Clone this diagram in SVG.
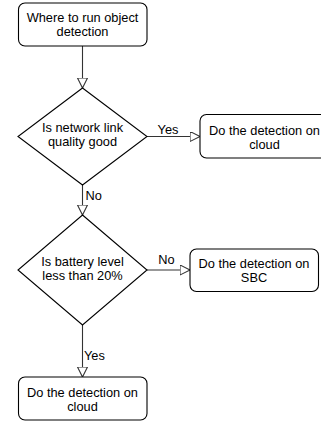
<svg xmlns="http://www.w3.org/2000/svg" width="321" height="421" viewBox="0 0 321 421">
  <style>
    .shape { fill: #ffffff; stroke: #000000; stroke-width: 1.1; }
    .edge { fill: none; stroke: #333333; stroke-width: 1.1; }
    .label { font-family: "Liberation Sans", Arial, Helvetica, sans-serif; font-size: 12.8px; fill: #000000; }
    .mid { text-anchor: middle; }
  </style>
  <defs>
    <marker id="openArrow" markerWidth="12" markerHeight="12" refX="10" refY="5" orient="auto" markerUnits="userSpaceOnUse" viewBox="0 0 12 12">
      <path d="M0,0 L10,5 L0,10 Z" fill="#ffffff" stroke="#333333" stroke-width="1.1"/>
    </marker>
  </defs>

  <!-- connectors -->
  <g id="connectors">
    <line class="edge" x1="82.5" y1="46" x2="82.5" y2="88" marker-end="url(#openArrow)"/>
    <line class="edge" x1="147" y1="136.5" x2="200" y2="136.5" marker-end="url(#openArrow)"/>
    <line class="edge" x1="82.5" y1="185" x2="82.5" y2="215" marker-end="url(#openArrow)"/>
    <line class="edge" x1="147" y1="270" x2="190" y2="270" marker-end="url(#openArrow)"/>
    <line class="edge" x1="82.5" y1="325" x2="82.5" y2="377" marker-end="url(#openArrow)"/>
    <text class="label mid" x="168" y="134">Yes</text>
    <text class="label" x="85.5" y="199.5">No</text>
    <text class="label mid" x="166.5" y="263.5">No</text>
    <text class="label" x="84" y="359.5">Yes</text>
  </g>

  <!-- start -->
  <g id="start">
    <rect class="shape" x="18.5" y="3" width="128.5" height="43" rx="6.5"/>
    <text class="label mid" x="82.5" y="22">Where to run object</text>
    <text class="label mid" x="82.5" y="36">detection</text>
  </g>

  <!-- decision: network link -->
  <g id="network-check">
    <polygon class="shape" points="82.5,88 147,136.5 82.5,185 18,136.5"/>
    <text class="label mid" x="82.5" y="132">Is network link</text>
    <text class="label mid" x="82.5" y="146">quality good</text>
  </g>

  <!-- outcome: cloud (network good) -->
  <g id="cloud-right">
    <rect class="shape" x="200" y="114.5" width="130" height="43.5" rx="6.5"/>
    <text class="label mid" x="264.5" y="135">Do the detection on</text>
    <text class="label mid" x="264.5" y="149">cloud</text>
  </g>

  <!-- decision: battery level -->
  <g id="battery-check">
    <polygon class="shape" points="82.5,215 147,270 82.5,325 18,270"/>
    <text class="label mid" x="82.5" y="265.5">Is battery level</text>
    <text class="label mid" x="82.5" y="279.5">less than 20%</text>
  </g>

  <!-- outcome: SBC -->
  <g id="sbc">
    <rect class="shape" x="190" y="249" width="128.5" height="42.5" rx="6.5"/>
    <text class="label mid" x="254" y="267.5">Do the detection on</text>
    <text class="label mid" x="254" y="281.5">SBC</text>
  </g>

  <!-- outcome: cloud (low battery) -->
  <g id="cloud-bottom">
    <rect class="shape" x="18.5" y="377" width="128.5" height="43" rx="6.5"/>
    <text class="label mid" x="82.5" y="396.5">Do the detection on</text>
    <text class="label mid" x="82.5" y="410.5">cloud</text>
  </g>
</svg>
